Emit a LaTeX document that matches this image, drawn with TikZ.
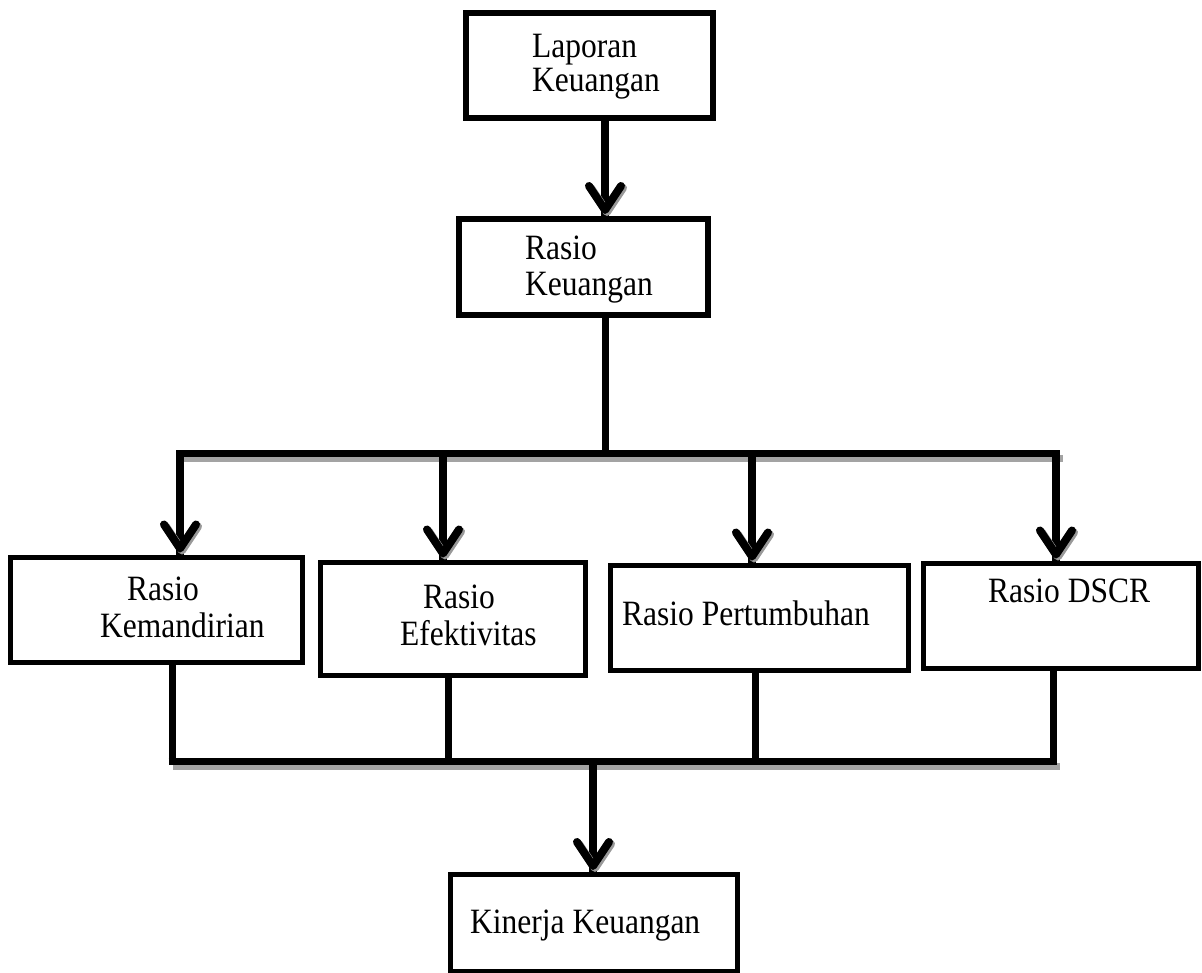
\documentclass[tikz,border=0pt]{standalone}
\usepackage{fontspec}
\setmainfont{Liberation Serif}
\usetikzlibrary{calc}
\newcommand\tallt[1]{\scalebox{1}[1.13]{#1}}
\begin{document}
\begin{tikzpicture}[x=1pt,y=-1pt,
  box/.style={draw, line width=5pt, rectangle, inner sep=0pt, anchor=north west},
  tbox/.style={box, line width=6pt},
  lbl/.style={anchor=base west, inner sep=0pt, font=\fontsize{31.5}{36}\selectfont},
  wire/.style={line width=7pt},
  shaft/.style={line width=7.5pt},
  shadw/.style={line width=7pt, draw=black!36},
  chev/.style={line width=8pt, line cap=round, line join=round},
  chevsh/.style={chev, draw=black!40}
]
\useasboundingbox (0,0) rectangle (1202,972);

% boxes
\node[tbox, minimum width=247pt, minimum height=105pt] (lap) at (463,10) {};
\node[tbox, minimum width=249pt, minimum height=96pt] (rk) at (456,216) {};
\node[box, minimum width=292pt, minimum height=105pt] (km) at (7.5,554.5) {};
\node[box, minimum width=265pt, minimum height=113pt] (ef) at (317.5,559.5) {};
\node[box, minimum width=298pt, minimum height=105pt] (pt) at (607.5,562.5) {};
\node[box, minimum width=275pt, minimum height=105pt] (ds) at (920.5,560.5) {};
\node[box, minimum width=287pt, minimum height=97pt] (kk) at (448,872) {};

% labels
\node[lbl] (lap1) at (532,57) {\tallt{Laporan}};
\node[lbl] (lap2) at (532,91) {\tallt{Keuangan}};
\node[lbl] (rk1) at (525,259) {\tallt{Rasio}};
\node[lbl] (rk2) at (525,295) {\tallt{Keuangan}};
\node[lbl] (km1) at (127,600) {\tallt{Rasio}};
\node[lbl] (km2) at (100,637) {\tallt{Kemandirian}};
\node[lbl] (ef1) at (423,608) {\tallt{Rasio}};
\node[lbl] (ef2) at (400,645) {\tallt{Efektivitas}};
\node[lbl] (pt1) at (622,625) {\tallt{Rasio Pertumbuhan}};
\node[lbl] (ds1) at (988,602) {\tallt{Rasio DSCR}};
\node[lbl] (kk1) at (470,933) {\tallt{Kinerja Keuangan}};

% helper coordinates
\coordinate (xa) at (605,0);
\coordinate (tbL) at (176.5,453.5);
\coordinate (tbR) at (1059.5,453.5);
\coordinate (t1) at (180,453.5);
\coordinate (t2) at (443,453.5);
\coordinate (t3) at (752,453.5);
\coordinate (t4) at (1056,453.5);
\coordinate (tc) at (605,453.5);
\coordinate (bbL) at (168.5,761.5);
\coordinate (bbR) at (1056.5,761.5);
\coordinate (b1) at (172,761.5);
\coordinate (b2) at (448,761.5);
\coordinate (b3) at (755,761.5);
\coordinate (b4) at (1053,761.5);
\coordinate (bc) at (593,761.5);

% bar shadows
\draw[shadw] ($(tbL)+(4,5)$) -- ($(tbR)+(3,5)$);
\draw[shadw] ($(bbL)+(4,5)$) -- ($(bbR)+(3,5)$);

% top chain
\draw[shaft] (xa |- lap.south) -- (xa |- rk.north);
\draw[chevsh] ($(xa |- rk.north)+(-14,-28)$) -- ($(xa |- rk.north)+(2,-4)$) -- ($(xa |- rk.north)+(18,-28)$);
\draw[chev] ($(xa |- rk.north)+(-16,-30)$) -- ($(xa |- rk.north)+(0,-6)$) -- ($(xa |- rk.north)+(16,-30)$);
\draw[wire] (xa |- rk.south) -- (tc);

% top bar
\draw[wire] (tbL) -- (tbR);
\foreach \c/\n in {t1/km, t2/ef, t3/pt, t4/ds}{
  \draw[shaft] ($(\c)+(0,-3.5)$) -- (\c |- \n.north);
  \draw[chevsh] ($(\c |- \n.north)+(-14,-28)$) -- ($(\c |- \n.north)+(2,-4)$) -- ($(\c |- \n.north)+(18,-28)$);
  \draw[chev] ($(\c |- \n.north)+(-16,-30)$) -- ($(\c |- \n.north)+(0,-6)$) -- ($(\c |- \n.north)+(16,-30)$);
}

% bottom bar
\draw[wire] (bbL) -- (bbR);
\foreach \c/\n in {b1/km, b2/ef, b3/pt, b4/ds}{
  \draw[wire] (\c |- \n.south) -- ($(\c)+(0,3.5)$);
}
\draw[shaft] (bc) -- (bc |- kk.north);
\draw[chevsh] ($(bc |- kk.north)+(-14,-28)$) -- ($(bc |- kk.north)+(2,-4)$) -- ($(bc |- kk.north)+(18,-28)$);
\draw[chev] ($(bc |- kk.north)+(-16,-30)$) -- ($(bc |- kk.north)+(0,-6)$) -- ($(bc |- kk.north)+(16,-30)$);
\end{tikzpicture}
\end{document}
